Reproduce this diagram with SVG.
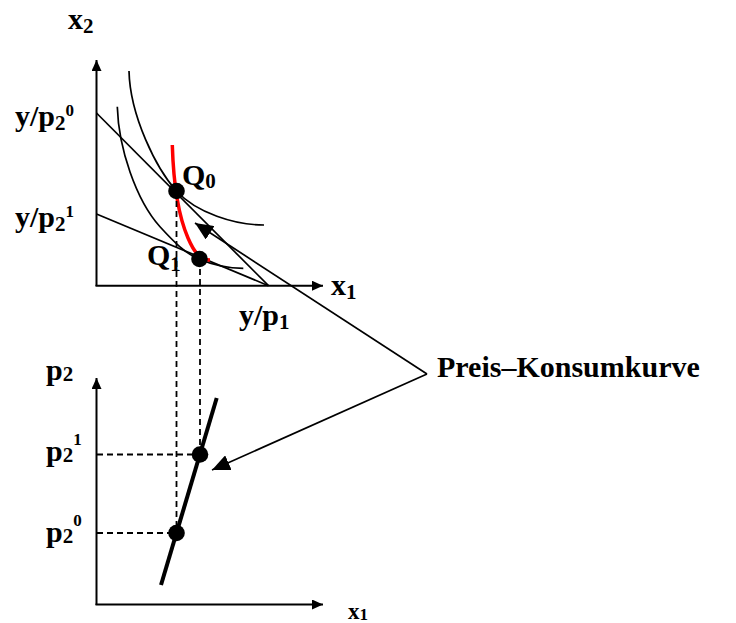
<svg xmlns="http://www.w3.org/2000/svg" width="736" height="623" viewBox="0 0 736 623">
<style>
  text { font-family: "Liberation Serif", "Times New Roman", serif; font-weight: bold; fill: #000; }
  .t { font-size: 30px; }
  .sub { font-size: 21px; }
  .sup { font-size: 17px; }
  .ax { stroke: #000; stroke-width: 2; fill: none; }
  .ln { stroke: #000; stroke-width: 1.7; fill: none; }
  .dash { stroke: #000; stroke-width: 1.8; stroke-dasharray: 6 4; fill: none; }
  .dot { fill: #000; }
</style>
<defs>
  <marker id="axa" markerWidth="12" markerHeight="10" refX="11" refY="5" orient="auto" markerUnits="userSpaceOnUse">
    <path d="M0,0 L11,5 L0,10 z" fill="#000"/>
  </marker>
  <marker id="pa" markerWidth="19" markerHeight="16" refX="18" refY="8" orient="auto" markerUnits="userSpaceOnUse">
    <path d="M0,0 L18,8 L0,16 z" fill="#000"/>
  </marker>
</defs>

<g id="axes-top">
  <line class="ax" x1="96.5" y1="286" x2="96.5" y2="60" marker-end="url(#axa)"/>
  <line class="ax" x1="95.5" y1="285.7" x2="323" y2="285.7" marker-end="url(#axa)"/>
</g>
<g id="axes-bottom">
  <line class="ax" x1="96.5" y1="605" x2="96.5" y2="378" marker-end="url(#axa)"/>
  <line class="ax" x1="95.5" y1="604.5" x2="323" y2="604.5" marker-end="url(#axa)"/>
</g>

<g id="budget-lines">
  <line class="ln" x1="96.5" y1="113" x2="268.5" y2="285.7"/>
  <line class="ln" x1="96.5" y1="214" x2="268.5" y2="285.7"/>
</g>

<g id="indifference-curves">
  <path class="ln" d="M129,71 C130,116 156.5,169 176.5,191 C196.5,213 235,225 264,225"/>
  <path class="ln" d="M117.3,106.7 C118.5,148 136,200 160,226.7 C174,242 185.3,253.4 199.3,259.3 C214.3,265.6 230,268.3 243.3,268.3"/>
</g>

<g id="price-consumption-curve">
  <path d="M172.3,145 C173.5,185 178,215 188,238 C194,252 200,260 210,260" stroke="#ff0000" stroke-width="3.5" fill="none"/>
</g>

<g id="demand-line">
  <line x1="161" y1="585" x2="216.7" y2="398" stroke="#000" stroke-width="4"/>
</g>

<g id="guides">
  <line class="dash" x1="176.5" y1="191" x2="176.5" y2="533"/>
  <line class="dash" x1="200" y1="259" x2="200" y2="454.5"/>
  <line class="dash" x1="97" y1="454.5" x2="200" y2="454.5"/>
  <line class="dash" x1="97" y1="533" x2="176.5" y2="533"/>
</g>

<g id="connectors">
  <line class="ln" x1="427" y1="374" x2="195" y2="223" marker-end="url(#pa)"/>
  <line class="ln" x1="427" y1="374" x2="212" y2="470" marker-end="url(#pa)"/>
</g>

<g id="Q0"><circle class="dot" cx="176.5" cy="191" r="8.3"/></g>
<g id="Q1"><circle class="dot" cx="199.5" cy="259" r="8.3"/></g>
<g id="P1"><circle class="dot" cx="200" cy="454.5" r="8.3"/></g>
<g id="P0"><circle class="dot" cx="176.5" cy="533" r="8.3"/></g>

<g id="labels">
  <text class="t" x="68" y="29">x<tspan class="sub" dy="4">2</tspan></text>
  <text class="t" x="15" y="126">y/p<tspan class="sub" dy="4">2</tspan><tspan class="sup" dy="-14">0</tspan></text>
  <text class="t" x="15" y="227">y/p<tspan class="sub" dy="4">2</tspan><tspan class="sup" dy="-14">1</tspan></text>
  <text class="t" x="182" y="185">Q<tspan class="sub" dy="3">0</tspan></text>
  <text class="t" x="147" y="265">Q<tspan class="sub" dy="6">1</tspan></text>
  <text class="t" x="331" y="295">x<tspan class="sub" dy="4">1</tspan></text>
  <text class="t" x="239" y="325">y/p<tspan class="sub" dy="4">1</tspan></text>
  <text class="t" x="437" y="377">Preis–Konsumkurve</text>
  <text class="t" x="46" y="380">p<tspan class="sub" dy="1">2</tspan></text>
  <text class="t" x="46" y="461">p<tspan class="sub" dy="1">2</tspan><tspan class="sup" dy="-17">1</tspan></text>
  <text class="t" x="46" y="542">p<tspan class="sub" dy="1">2</tspan><tspan class="sup" dy="-17">0</tspan></text>
  <text x="348" y="619" style="font-size:23px">x<tspan style="font-size:17px" dy="1">1</tspan></text>
</g>
</svg>
